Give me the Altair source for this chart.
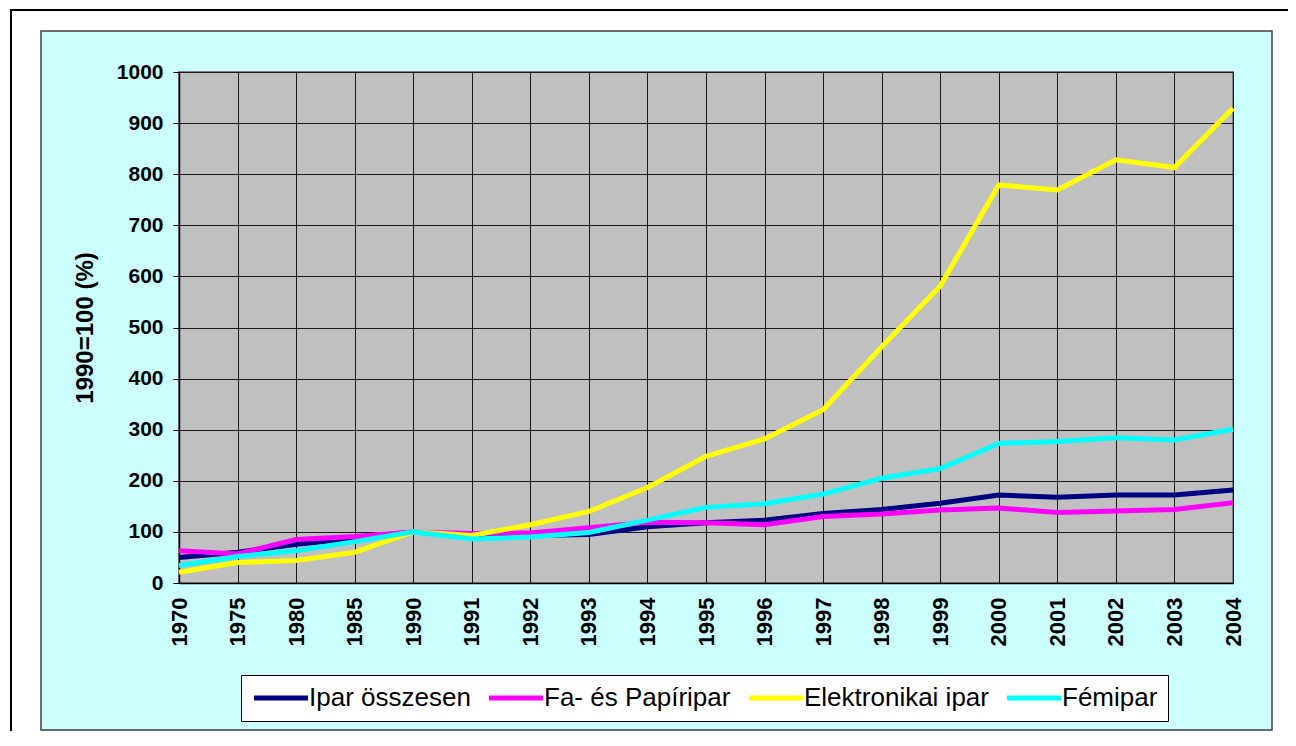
import altair as alt
import pandas as pd

years = ["1970", "1975", "1980", "1985", "1990", "1991", "1992", "1993", "1994",
         "1995", "1996", "1997", "1998", "1999", "2000", "2001", "2002", "2003", "2004"]

series_names = ["Ipar összesen", "Fa- és Papíripar", "Elektronikai ipar", "Fémipar"]
series_colors = ["#000080", "#FF00FF", "#FFFF00", "#00FFFF"]

ipar_osszesen = [50, 60, 76, 87, 100, 92, 93, 95, 110, 118, 123, 136, 144, 156, 172, 168, 172, 172, 182]
fa_papir = [63, 57, 85, 91, 100, 97, 98, 108, 119, 118, 114, 130, 135, 143, 147, 138, 141, 144, 157]
elektronikai = [21, 40, 44, 60, 100, 93, 114, 140, 187, 248, 282, 339, 462, 581, 779, 769, 828, 813, 929]
femipar = [34, 52, 63, 81, 100, 86, 90, 99, 123, 148, 155, 174, 205, 224, 273, 277, 284, 280, 301]

y_ticks = list(range(0, 1001, 100))

rows = []
for name, vals in zip(series_names, [ipar_osszesen, fa_papir, elektronikai, femipar]):
    for yr, v in zip(years, vals):
        rows.append({"Év": yr, "Érték": v, "Sorozat": name})
df = pd.DataFrame(rows)

FONT = "Liberation Sans"
W, H = 1054, 511

one = pd.DataFrame({"k": [0]})


def white_rect(x, x2, y, y2):
    return alt.Chart(one).mark_rect(fill="white").encode(
        x=alt.value(x), x2=alt.value(x2), y=alt.value(y), y2=alt.value(y2))


# decorative frame around the cyan panel (plot-area pixel coordinates)
band_left = white_rect(-171, -138, -64, 660)
band_top = white_rect(-171, 1109, -64, -41)
band_right = white_rect(1093, 1109, -64, 660)
outer_top = alt.Chart(one).mark_rule(stroke="black", strokeWidth=2).encode(
    x=alt.value(-169), x2=alt.value(1109), y=alt.value(-62))
outer_left = alt.Chart(one).mark_rule(stroke="black", strokeWidth=2).encode(
    x=alt.value(-168), y=alt.value(-63), y2=alt.value(660))
panel_border = alt.Chart(one).mark_rect(fillOpacity=0, stroke="#404040", strokeWidth=1.5).encode(
    x=alt.value(-138), x2=alt.value(1093), y=alt.value(-41), y2=alt.value(658))

lines = alt.Chart(df).mark_line(strokeWidth=5).encode(
    x=alt.X("Év:O", sort=years,
            scale=alt.Scale(type="point", padding=0),
            axis=alt.Axis(title=None, labelAngle=270, labelFontSize=22, labelFontWeight="bold",
                          labelColor="black", labelPadding=14, ticks=False, grid=True,
                          gridColor="#1a1a1a", gridWidth=1, domainColor="black", domainWidth=1.5,
                          labelFont=FONT)),
    y=alt.Y("Érték:Q", scale=alt.Scale(domain=[0, 1000], nice=False),
            axis=alt.Axis(title="1990=100 (%)", values=y_ticks, format="d", labelFontSize=21,
                          labelFontWeight="bold", labelColor="black", labelPadding=10,
                          tickSize=6, tickColor="black", grid=True, gridColor="#1a1a1a",
                          gridWidth=1, domainColor="black", domainWidth=1.5,
                          titleFontSize=24, titleFontWeight="bold", titleColor="black",
                          titleX=-94, titleY=255.5, titleAngle=270, titleAlign="center",
                          titleBaseline="middle", labelFont=FONT, titleFont=FONT)),
    color=alt.Color("Sorozat:N", sort=series_names,
                    scale=alt.Scale(domain=series_names, range=series_colors),
                    legend=alt.Legend(title=None, orient="none", legendX=62, legendY=603,
                                      direction="horizontal", fillColor="white",
                                      strokeColor="black", padding=10,
                                      symbolType="M-1,0H4.4", symbolSize=400,
                                      symbolStrokeWidth=5, labelFontSize=26,
                                      labelFont=FONT, labelColor="black",
                                      labelOffset=32, columnPadding=8,
                                      labelLimit=400)),
)

chart = alt.layer(band_left, band_top, band_right, lines,
                  outer_top, outer_left, panel_border).properties(
    width=W, height=H,
    autosize=alt.AutoSizeParams(type="none"),
    padding={"left": 171, "top": 64, "right": 55, "bottom": 148},
).configure(
    font=FONT, background="#CCFFFF"
).configure_view(
    fill="#C0C0C0", stroke="#808080", strokeWidth=2
)

chart.save("out.html", embed_options={"renderer": "svg", "actions": False})
